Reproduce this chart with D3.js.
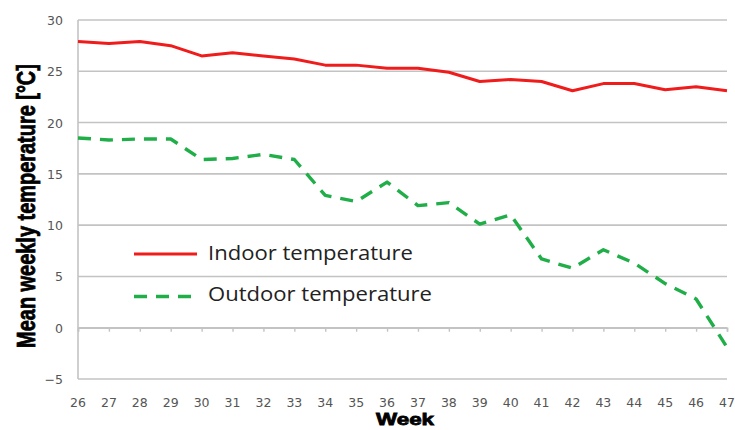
<!DOCTYPE html>
<html>
<head>
<meta charset="utf-8">
<script src="https://cdn.jsdelivr.net/npm/d3@7"></script>
<style>
  html, body { margin: 0; padding: 0; background: #fff; }
  svg { display: block; }
</style>
</head>
<body>
<svg id="chart" width="735" height="430"></svg>
<script>
// Weekly means, weeks 26–47
const weeks = d3.range(26, 48);
const indoor = [27.9, 27.7, 27.9, 27.5, 26.5, 26.8, 26.5, 26.2, 25.6, 25.6, 25.3,
                25.3, 24.9, 24.0, 24.2, 24.0, 23.1, 23.8, 23.8, 23.2, 23.5, 23.1];
const outdoor = [18.5, 18.3, 18.4, 18.4, 16.4, 16.5, 16.9, 16.4, 12.9, 12.3, 14.2,
                 11.9, 12.2, 10.1, 11.0, 6.7, 5.8, 7.6, 6.3, 4.3, 2.8, -1.9];
const yTicks = [-5, 0, 5, 10, 15, 20, 25, 30];
const seriesNames = ["Indoor temperature", "Outdoor temperature"];

const svg = d3.select("#chart");
const x = d3.scaleLinear().domain([26, 47]).range([78, 727]);
const y = d3.scaleLinear().domain([-5, 30]).range([379, 20]);

const gridColor = "#c3c3c3";
const red = "#f01c1c";
const green = "#1fae48";

// horizontal gridlines
svg.append("g")
  .selectAll("line")
  .data(yTicks)
  .join("line")
  .attr("x1", x(26)).attr("x2", x(47))
  .attr("y1", d => y(d)).attr("y2", d => y(d))
  .attr("stroke", gridColor).attr("stroke-width", 1.6);

// vertical axis line
svg.append("line")
  .attr("x1", x(26)).attr("x2", x(26))
  .attr("y1", y(30)).attr("y2", y(-5))
  .attr("stroke", gridColor).attr("stroke-width", 1.6);

// y tick labels
const yAxis = svg.append("g")
  .attr("transform", `translate(${x(26) - 15},0)`)
  .call(d3.axisLeft(y).tickValues(yTicks).tickSize(0).tickPadding(0));
yAxis.select(".domain").remove();
yAxis.selectAll("text")
  .attr("fill", "#555")
  .style("font-family", "DejaVu Sans, Verdana, sans-serif")
  .style("font-size", "12.5px")
  .attr("dy", "0.36em");

// horizontal axis crossing at zero, with week ticks below it
const xAxis = svg.append("g")
  .attr("transform", `translate(0,${y(0)})`)
  .call(d3.axisBottom(x).tickValues(weeks).tickSize(4).tickFormat(""));
xAxis.select(".domain").attr("stroke", gridColor).attr("stroke-width", 1.6);
xAxis.selectAll(".tick line").attr("stroke", gridColor).attr("stroke-width", 1.4);

// week labels along the bottom
svg.append("g")
  .selectAll("text")
  .data(weeks)
  .join("text")
  .attr("x", d => x(d))
  .attr("y", 406.5)
  .attr("text-anchor", "middle")
  .attr("fill", "#555")
  .style("font-family", "DejaVu Sans, Verdana, sans-serif")
  .style("font-size", "12.5px")
  .text(d => d);

// series lines
const line = d3.line().x((d, i) => x(weeks[i])).y(d => y(d));

svg.append("path")
  .datum(indoor)
  .attr("d", line)
  .attr("fill", "none")
  .attr("stroke", red)
  .attr("stroke-width", 3)
  .attr("stroke-linejoin", "round");

svg.append("path")
  .datum(outdoor)
  .attr("d", line)
  .attr("fill", "none")
  .attr("stroke", green)
  .attr("stroke-width", 3.4)
  .attr("stroke-dasharray", "13,9")
  .attr("stroke-linejoin", "round");

// legend
const legend = svg.append("g");
legend.append("line")
  .attr("x1", 134).attr("x2", 197).attr("y1", 254).attr("y2", 254)
  .attr("stroke", red).attr("stroke-width", 3);
legend.append("line")
  .attr("x1", 134).attr("x2", 193).attr("y1", 296.5).attr("y2", 296.5)
  .attr("stroke", green).attr("stroke-width", 3.4)
  .attr("stroke-dasharray", "13,9");
legend.selectAll("text")
  .data(seriesNames)
  .join("text")
  .attr("x", 208)
  .attr("y", (d, i) => i === 0 ? 259.5 : 301)
  .attr("fill", "#222")
  .attr("textLength", (d, i) => i === 0 ? 205 : 224)
  .attr("lengthAdjust", "spacingAndGlyphs")
  .style("font-family", "Open Sans, sans-serif")
  .style("font-size", "19.5px")
  .text(d => d);

// axis titles: heavy type squeezed horizontally to a target width
function squeezedTitle(text, size, targetWidth, place) {
  const t = svg.append("text")
    .attr("text-anchor", "middle")
    .attr("fill", "#000")
    .style("font-family", "Liberation Sans, Arial, sans-serif")
    .style("font-weight", "bold")
    .style("font-size", size + "px")
    .style("stroke", "#000").style("stroke-width", 0.8)
    .text(text);
  const k = targetWidth / t.node().getComputedTextLength();
  t.attr("transform", `${place} scale(${k},1)`);
  return t;
}

squeezedTitle("Mean weekly  temperature [°C]", 26, 284, "translate(35,206) rotate(-90)");
squeezedTitle("Week", 17, 58, "translate(405,425)");
</script>
</body>
</html>
